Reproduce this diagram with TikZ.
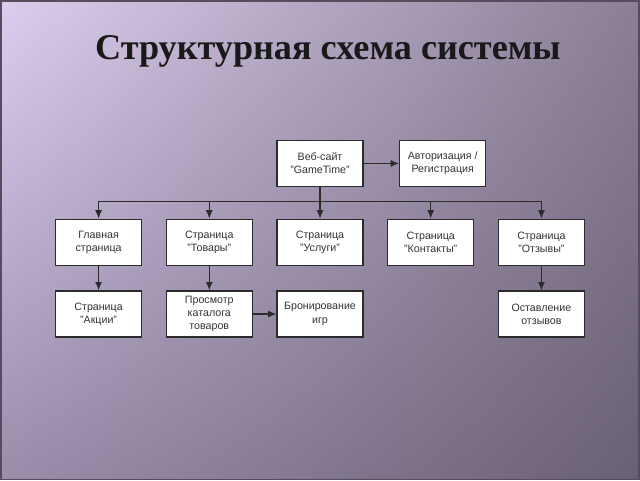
\documentclass[tikz,border=0pt]{standalone}
\usepackage{fontspec}
\setmainfont{Liberation Sans}
\newfontfamily\titlefont{Liberation Serif}
\usepackage{tikz}
\usetikzlibrary{arrows.meta, positioning, calc, shadings}

\definecolor{bgtl}{HTML}{DCCDEE}
\definecolor{bgtr}{HTML}{8A7F96}
\definecolor{bgbl}{HTML}{9A8DAC}
\definecolor{bgbr}{HTML}{6A6074}
\definecolor{edge}{HTML}{2B2B2B}

\begin{document}
\begin{tikzpicture}[x=0.025cm, y=-0.025cm, >={Latex[length=6pt, width=5pt]},
    b/.style={draw=edge, line width=0.9pt, fill=white, minimum width=2.15cm, minimum height=1.15cm,
              align=center, inner sep=1pt, font=\fontsize{7.6}{9.4}\selectfont, text=black!80},
    c/.style={draw=edge, line width=0.9pt}
]
    % background
    \shade[upper left=bgtl, upper right=bgtr, lower left=bgbl, lower right=bgbr] (0,0) rectangle (640,480);
    \draw[line width=1.2pt, bgbr!80!black] (0,0) rectangle (640,480);
    \useasboundingbox (0,0) rectangle (640,480);

    \node[font=\titlefont\fontsize{25.8}{30}\selectfont\bfseries, text=black!90] (title) at (328,51) {Структурная схема системы};

    % top level
    \node[b] (web) at (320,163) {Веб-сайт\\"GameTime"};
    \node[b] (auth) at (443,163) {Авторизация /\\Регистрация};

    % pages
    \node[b] (glav) at (98,242) {Главная\\страница};
    \node[b] (tov) at (209,242) {Страница\\"Товары"};
    \node[b] (usl) at (320,242) {Страница\\"Услуги"};
    \node[b] (kont) at (431,242) {Страница\\"Контакты"};
    \node[b] (otz) at (542,242) {Страница\\"Отзывы"};

    % third row
    \node[b] (akc) at (98,314) {Страница\\"Акции"};
    \node[b] (prosm) at (209,314) {Просмотр\\каталога\\товаров};
    \node[b] (bron) at (320,314) {Бронирование\\игр};
    \node[b] (ost) at (542,314) {Оставление\\отзывов};

    \coordinate (bus) at (320,201);
    \draw[c] (bus -| glav) -- (bus -| otz);
    \draw[c,->] (web) -- (usl);
    \foreach \n in {glav, tov, kont, otz}
        \draw[c,->] (bus -| \n) -- (\n);
    \draw[c,->] (web) -- (auth);
    \draw[c,->] (glav) -- (akc);
    \draw[c,->] (tov) -- (prosm);
    \draw[c,->] (otz) -- (ost);
    \draw[c,->] (prosm) -- (bron);
\end{tikzpicture}
\end{document}
